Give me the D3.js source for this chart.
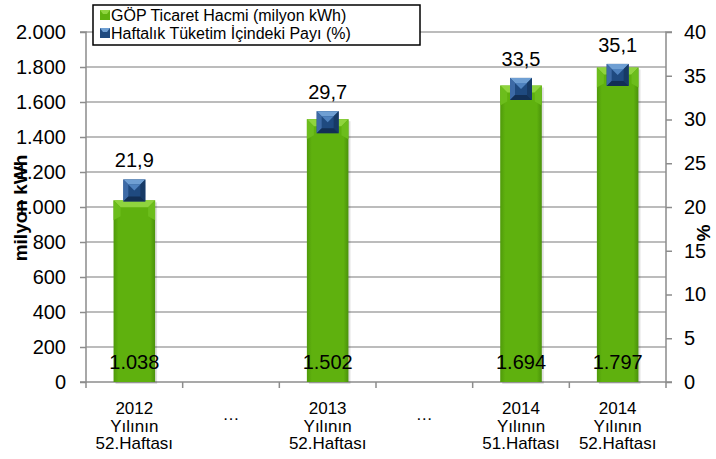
<!DOCTYPE html>
<html>
<head>
<meta charset="utf-8">
<script src="https://cdn.jsdelivr.net/npm/d3@7"></script>
<style>
  body { margin: 0; background: #fff; }
  text { font-family: "Liberation Sans", Arial, sans-serif; }
</style>
</head>
<body>
<script>
// chart data
const categories = ["2012|Yılının|52.Haftası", "gap1", "2013|Yılının|52.Haftası", "gap2", "2014|Yılının|51.Haftası", "2014|Yılının|52.Haftası"];
const gapLabels = { gap1: "…", gap2: "…" };
const volume = [1038, null, 1502, null, 1694, 1797];           // milyon kWh
const volumeLabels = ["1.038", null, "1.502", null, "1.694", "1.797"];
const share = [21.9, null, 29.7, null, 33.5, 35.1];            // %
const shareLabels = ["21,9", null, "29,7", null, "33,5", "35,1"];
const leftTicks = [0, 200, 400, 600, 800, 1000, 1200, 1400, 1600, 1800, 2000];
const rightTicks = [0, 5, 10, 15, 20, 25, 30, 35, 40];
const legendNames = ["GÖP Ticaret Hacmi (milyon kWh)", "Haftalık Tüketim İçindeki Payı (%)"];

const W = 716, H = 459;
const margin = { top: 32, left: 86, right: 50, bottom: 77 };
const width = W - margin.left - margin.right;
const height = H - margin.top - margin.bottom;

const svg = d3.select("body").append("svg")
  .attr("width", W).attr("height", H);

const defs = svg.append("defs");
const gBar = defs.append("linearGradient").attr("id", "barGrad").attr("x1", 0).attr("x2", 1).attr("y1", 0).attr("y2", 0);
gBar.append("stop").attr("offset", "0%").attr("stop-color", "#4f9a0a");
gBar.append("stop").attr("offset", "12%").attr("stop-color", "#5fb10e");
gBar.append("stop").attr("offset", "88%").attr("stop-color", "#5fb10e");
gBar.append("stop").attr("offset", "100%").attr("stop-color", "#4a920a");

const g = svg.append("g").attr("transform", `translate(${margin.left},${margin.top})`);

const x = d3.scaleBand().domain(categories).range([0, width]).padding(0);
const yL = d3.scaleLinear().domain([0, 2000]).range([height, 0]);
const yR = d3.scaleLinear().domain([0, 40]).range([height, 0]);

// gridlines
g.append("g").selectAll("line").data(leftTicks.slice(1)).join("line")
  .attr("x1", 0).attr("x2", width)
  .attr("y1", d => yL(d)).attr("y2", d => yL(d))
  .attr("stroke", "#a6a6a6").attr("stroke-width", 1.5);

// left axis
const axL = g.append("g").call(d3.axisLeft(yL).tickValues(leftTicks).tickSize(6).tickPadding(14)
  .tickFormat(d => d3.format(",")(d).replace(/,/g, ".")));
axL.select(".domain").attr("stroke", "#8c8c8c").attr("stroke-width", 1.5).attr("d", `M-6,${height}H0V0H-6`);
axL.selectAll(".tick line").attr("stroke", "#8c8c8c").attr("stroke-width", 1.5);
axL.selectAll(".tick text").attr("font-size", 20).attr("fill", "#000");

// right axis
const axR = g.append("g").attr("transform", `translate(${width},0)`)
  .call(d3.axisRight(yR).tickValues(rightTicks).tickSize(6).tickPadding(12));
axR.select(".domain").attr("stroke", "#8c8c8c").attr("stroke-width", 1.5).attr("d", `M6,${height}H0V0H6`);
axR.selectAll(".tick line").attr("stroke", "#8c8c8c").attr("stroke-width", 1.5);
axR.selectAll(".tick text").attr("font-size", 20).attr("fill", "#000");

// x axis
const axX = g.append("g").attr("transform", `translate(0,${height})`);
axX.append("line").attr("x1", 0).attr("x2", width).attr("stroke", "#8c8c8c").attr("stroke-width", 1.5);
axX.selectAll(".xt").data(d3.range(categories.length + 1)).join("line")
  .attr("x1", i => i * x.step()).attr("x2", i => i * x.step())
  .attr("y1", 0).attr("y2", 6).attr("stroke", "#8c8c8c").attr("stroke-width", 1.5);
categories.forEach(c => {
  const cx = x(c) + x.bandwidth() / 2;
  if (gapLabels[c]) {
    axX.append("text").attr("x", cx).attr("y", 38).attr("text-anchor", "middle")
      .attr("font-size", 17).text(gapLabels[c]);
  } else {
    c.split("|").forEach((line, i) => {
      axX.append("text").attr("x", cx).attr("y", 32 + i * 17.5).attr("text-anchor", "middle")
        .attr("font-size", 17).text(line);
    });
  }
});

// bars
const barW = x.bandwidth() * 0.43;
const barData = categories.map((c, i) => ({ c, v: volume[i], lab: volumeLabels[i], p: share[i], pl: shareLabels[i] }))
  .filter(d => d.v != null);

const bars = g.append("g").selectAll("g").data(barData).join("g")
  .attr("transform", d => `translate(${x(d.c) + x.bandwidth() / 2 - barW / 2},0)`);
bars.append("rect").attr("x", 2).attr("y", d => yL(d.v) + 2).attr("width", barW).attr("height", d => height - yL(d.v))
  .attr("fill", "#000").attr("opacity", 0.12);
bars.append("rect").attr("x", 0).attr("y", d => yL(d.v)).attr("width", barW).attr("height", d => height - yL(d.v))
  .attr("fill", "url(#barGrad)");
// top bevel
bars.append("path").attr("d", d => {
  const t = yL(d.v), b = 7;
  return `M0,${t}H${barW}L${barW - b},${t + b}H${b}Z`;
}).attr("fill", "#8fd43e");
bars.append("path").attr("d", d => {
  const t = yL(d.v), b = 7;
  return `M0,${t}L${b},${t + b}V${t + 16}L0,${t + 20}Z M${barW},${t}L${barW - b},${t + b}V${t + 16}L${barW},${t + 20}Z`;
}).attr("fill", "#6cbd1c");
// value labels
bars.append("text").attr("x", barW / 2).attr("y", height - 13).attr("text-anchor", "middle")
  .attr("font-size", 20).attr("fill", "#000").text(d => d.lab);

// markers
const ms = 22;
const mk = g.append("g").selectAll("g").data(barData).join("g")
  .attr("transform", d => `translate(${x(d.c) + x.bandwidth() / 2},${yR(d.p)})`);
const h = ms / 2, b2 = 5;
mk.append("rect").attr("x", -h).attr("y", -h).attr("width", ms).attr("height", ms).attr("fill", "#1f4a80");
mk.append("path").attr("d", `M${-h},${-h}H${h}L${h - b2},${-h + b2}H${-h + b2}Z`).attr("fill", "#6f9fd3");
mk.append("path").attr("d", `M${-h},${-h}L${-h + b2},${-h + b2}V${h - b2}L${-h},${h}Z`).attr("fill", "#3d6aa6");
mk.append("path").attr("d", `M${h},${-h}L${h - b2},${-h + b2}V${h - b2}L${h},${h}Z`).attr("fill", "#173a66");
mk.append("path").attr("d", `M${-h},${h}H${h}L${h - b2},${h - b2}H${-h + b2}Z`).attr("fill", "#122f55");
mk.append("path").attr("d", `M${-h + b2},${-h + b2}H${h - b2}L0,0Z`).attr("fill", "#4f82be");
mk.append("text").attr("y", -h - 12).attr("text-anchor", "middle").attr("font-size", 20).attr("fill", "#000")
  .text(d => d.pl);

// axis titles
svg.append("text").attr("transform", `translate(27,${margin.top + 176}) rotate(-90)`)
  .attr("text-anchor", "middle").attr("font-size", 19).attr("font-weight", "bold").text("milyon kWh");
svg.append("text").attr("transform", `translate(697,233) rotate(90)`)
  .attr("text-anchor", "middle").attr("font-size", 19).attr("font-weight", "bold").text("%");

// legend
const lg = svg.append("g").attr("transform", "translate(93,5)");
lg.append("rect").attr("width", 327).attr("height", 40).attr("fill", "#fff").attr("stroke", "#000").attr("stroke-width", 1.5);
const lgColors = [["#5fb10e", "#8fd43e"], ["#1f4a80", "#6f9fd3"]];
legendNames.forEach((name, i) => {
  const row = lg.append("g").attr("transform", `translate(12,${10 + i * 18})`);
  row.append("rect").attr("x", -5).attr("y", -5).attr("width", 10).attr("height", 10).attr("fill", lgColors[i][0]);
  row.append("path").attr("d", "M-5,-5H5L2,-1H-2Z").attr("fill", lgColors[i][1]);
  row.append("text").attr("x", 6).attr("y", 6).attr("font-size", 16).text(name);
});
</script>
</body>
</html>
